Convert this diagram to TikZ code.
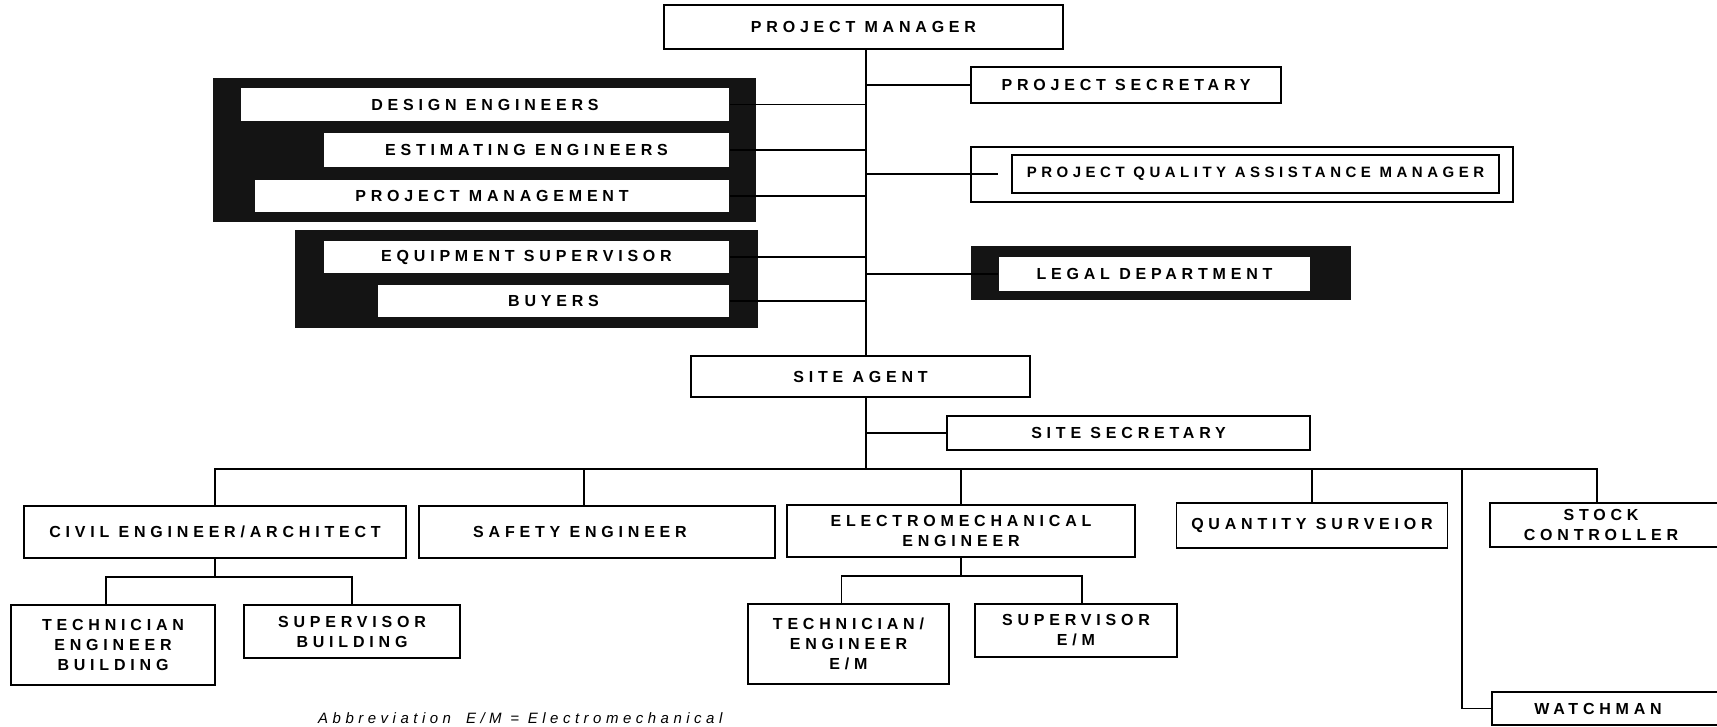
\documentclass[tikz,border=0pt]{standalone}
\usepackage{fontspec}
\setmainfont{Liberation Sans}[LetterSpace=30]
\begin{document}
\begin{tikzpicture}[x=1pt,y=-1pt,
  box/.style={draw, line width=1.6pt, fill=white, inner sep=0pt, align=center,
    font=\fontsize{16}{20}\selectfont\bfseries},
  conn/.style={line width=1.6pt},
  darkbg/.style={fill=black!92}]
\useasboundingbox (0,0) rectangle (1717,727);
% dark backgrounds
\fill[darkbg] (213,78) rectangle (756,222);
\fill[darkbg] (295,230) rectangle (758,328);
\fill[darkbg] (971,246) rectangle (1351,300);
\draw[line width=1.6pt] (971,147) rectangle (1513,202);
% nodes
\node[box, minimum width=399pt, minimum height=44pt] (pm) at (863.5,27) {PROJECT MANAGER};
\node[box, minimum width=310pt, minimum height=36pt] (ps) at (1126,85) {PROJECT SECRETARY};
\node[box, draw=none, minimum width=488pt, minimum height=33pt] (design) at (485,104.5) {DESIGN ENGINEERS};
\node[box, draw=none, minimum width=405pt, minimum height=34pt] (est) at (526.5,150) {ESTIMATING ENGINEERS};
\node[box, draw=none, minimum width=474pt, minimum height=32pt] (pmg) at (492,196) {PROJECT MANAGEMENT};
\node[box, draw=none, minimum width=405pt, minimum height=32pt] (equip) at (526.5,257) {EQUIPMENT SUPERVISOR};
\node[box, draw=none, minimum width=351pt, minimum height=32pt] (buyers) at (553.5,301) {BUYERS};
\node[box, minimum width=487pt, minimum height=38pt, font=\fontsize{15}{18}\selectfont\bfseries] (pqin) at (1255.5,174) {PROJECT QUALITY ASSISTANCE MANAGER};
\node[box, draw=none, minimum width=311pt, minimum height=34pt] (legal) at (1154.5,274) {LEGAL DEPARTMENT};
\node[box, minimum width=339pt, minimum height=41pt] (sa) at (860.5,376.5) {SITE AGENT};
\node[box, minimum width=363pt, minimum height=34pt] (ssec) at (1128.5,433) {SITE SECRETARY};
\node[box, minimum width=382pt, minimum height=52pt] (civil) at (215,532) {CIVIL ENGINEER/ARCHITECT};
\node[box, minimum width=356pt, minimum height=52pt] (safety) at (597,532) {\hspace*{-34pt}SAFETY ENGINEER};
\node[box, minimum width=348pt, minimum height=52pt] (electro) at (961,531) {ELECTROMECHANICAL\\ENGINEER};
\node[box, minimum width=271pt, minimum height=45pt] (qs) at (1312,525.5) {QUANTITY SURVEIOR};
\node[box, minimum width=230pt, minimum height=44pt] (stock) at (1605,525) {\hspace*{-8pt}STOCK\\\hspace*{-8pt}CONTROLLER};
\node[box, minimum width=228pt, minimum height=33pt] (watch) at (1606,708.5) {\hspace*{-16pt}WATCHMAN};
\node[box, minimum width=204pt, minimum height=80pt] (tech) at (113,645) {TECHNICIAN\\ENGINEER\\BUILDING};
\node[box, minimum width=216pt, minimum height=53pt] (supb) at (352,631.5) {SUPERVISOR\\BUILDING};
\node[box, minimum width=201pt, minimum height=80pt] (techem) at (848.5,644) {TECHNICIAN/\\ENGINEER\\E/M};
\node[box, minimum width=202pt, minimum height=53pt] (supem) at (1076,630.5) {SUPERVISOR\\E/M};
\node[anchor=base west, inner sep=0pt, font=\fontsize{15}{18}\selectfont\itshape] (abbr) at (318,723) {Abbreviation\quad E/M = Electromechanical};
% connectors
\coordinate (spine) at (866,0);
\coordinate (bus) at (0,469);
\draw[conn] (pm.south -| spine) -- (sa.north -| spine);
\draw[conn] (sa.south -| spine) -- (spine |- bus);
\foreach \n in {design,est,pmg,equip,buyers}
  \draw[conn] (\n.east) -- (\n.east -| spine);
\draw[conn] (spine |- ps.west) -- (ps.west);
\draw[conn] (spine |- pqin.west) -- ([xshift=-13pt]pqin.west);
\draw[conn] (spine |- legal.west) -- (legal.west);
\draw[conn] (spine |- ssec.west) -- (ssec.west);
\draw[conn] (civil.north) -- (civil.north |- bus) -- ([xshift=-8pt]stock.north |- bus) -- ([xshift=-8pt]stock.north);
\draw[conn] ([xshift=-13pt]safety.north) -- ([xshift=-13pt]safety.north |- bus);
\draw[conn] (electro.north) -- (electro.north |- bus);
\draw[conn] (qs.north) -- (qs.north |- bus);
\coordinate (wm) at (1462,469);
\draw[conn] (wm) |- (watch.west);
\coordinate (cj) at (0,577);
\draw[conn] (civil.south) -- (civil.south |- cj);
\draw[conn] ([xshift=-7pt]tech.north) |- (supb.north |- cj) -- (supb.north);
\coordinate (ej) at (0,576);
\draw[conn] (electro.south) -- (electro.south |- ej);
\draw[conn] ([xshift=-7pt]techem.north) |- ([xshift=6pt]supem.north |- ej) -- ([xshift=6pt]supem.north);
\end{tikzpicture}
\end{document}
